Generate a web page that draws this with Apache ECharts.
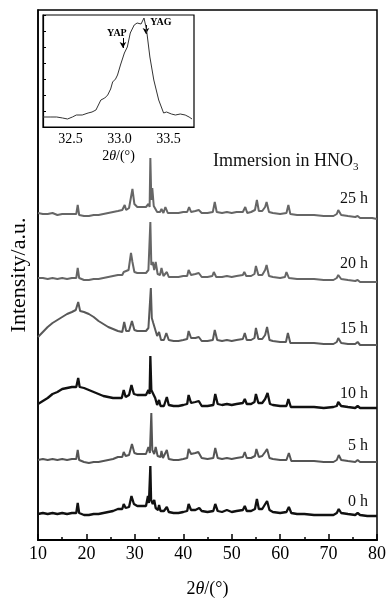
<!DOCTYPE html>
<html>
<head>
<meta charset="utf-8">
<script src="https://cdn.jsdelivr.net/npm/echarts@6/dist/echarts.min.js"></script>
<style>
  html, body { margin: 0; padding: 0; background: #fff; }
  #main { width: 390px; height: 605px; }
</style>
</head>
<body>
<div id="main"></div>
<script>
// 数据：2θ / 强度 (a.u.，各曲线已上下错开)
const h0 = [[10,26],[11,27],[12,26],[13,27],[14,26],[15,27],[16,26],[17,27],[17.9,27],[18.2,37],[18.5,27],[19.5,25],[20.5,25],[21.5,26],[22.5,26],[23.5,27],[24.5,28],[25.5,29],[26.5,31],[27.4,31],[27.7,36],[28.1,32],[28.8,33],[29.3,44],[29.8,36],[30.5,34],[31.5,34],[32.3,34],[32.7,44],[32.9,37],[33.1,36],[33.2,74],[33.35,40],[33.7,36],[34.0,40],[34.3,32],[34.8,30],[35.0,35],[35.3,29],[36.0,29],[36.6,33],[37.0,28],[38,27],[39,27],[40,28],[40.8,29],[41.1,36],[41.6,30],[42.5,30],[43.3,32],[43.8,29],[45,28],[46.2,29],[46.6,36],[47.1,29],[48,28],[49,30],[50,28],[51,29],[52.3,30],[52.7,34],[53.1,29],[54,29],[54.8,31],[55.2,41],[55.6,31],[56.3,31],[56.8,35],[57.3,39],[57.8,30],[58.5,28],[60,27],[61.3,28],[61.8,33],[62.3,27],[63.5,26],[65,26],[67,25],[69,25],[71,25],[71.7,27],[72.1,31],[72.6,27],[74,26],[75.5,25],[76,27],[76.5,25],[78,24],[79,24],[80,24]]
const h5 = [[10,80],[11,81],[12,80],[13,81],[14,80],[15,81],[16,80],[17,81],[17.9,81],[18.2,90],[18.5,80],[19.5,78],[20.5,77],[21.5,78],[22.5,78],[23.5,79],[24.5,80],[25.5,81],[26.5,83],[27.4,83],[27.7,88],[28.1,84],[28.8,85],[29.4,96],[29.9,87],[30.5,86],[31.5,86],[32.3,86],[32.8,93],[33.1,87],[33.4,127],[33.6,90],[34.0,86],[34.3,93],[34.7,84],[35.3,83],[35.5,89],[35.8,82],[36.6,90],[37.0,81],[38,80],[39,80],[40,81],[40.8,82],[41.1,91],[41.6,86],[42.5,87],[43.1,88],[43.8,82],[45,81],[46.2,82],[46.6,92],[47.1,82],[48,81],[49,82],[50,81],[51,82],[52.3,83],[52.7,88],[53.1,82],[54,82],[54.8,84],[55.1,91],[55.6,83],[56.3,84],[56.9,88],[57.3,91],[57.8,82],[58.5,81],[60,80],[61.3,80],[61.8,87],[62.3,79],[63.5,79],[65,79],[67,79],[69,78],[71,78],[71.7,80],[72.1,85],[72.6,80],[74,79],[75.5,78],[76,80],[76.5,78],[78,78],[79,78],[80,78]]
const h10 = [[10,136],[11,139],[12,142],[13,146],[14,148],[15,151],[16,152],[17,153],[17.9,153],[18.3,162],[18.6,153],[19.5,152],[20.5,150],[21.5,148],[22.5,146],[23.5,144],[24.5,143],[25.5,142],[26.5,142],[27.3,142],[27.7,150],[28.1,143],[28.8,145],[29.3,155],[29.8,146],[30.5,145],[31.5,145],[32.3,145],[32.8,150],[33.05,146],[33.2,184],[33.4,150],[33.8,146],[34.2,142],[34.6,135],[35.0,140],[35.3,134],[36.0,134],[36.6,143],[37.0,135],[38,134],[39,134],[40,135],[40.8,136],[41.1,145],[41.6,137],[42.5,138],[43.2,139],[43.8,134],[45,134],[46.2,135],[46.6,146],[47.1,136],[48,135],[49,136],[50,135],[51,136],[52.3,137],[52.7,141],[53.1,136],[54,136],[54.7,138],[55.0,146],[55.5,137],[56.3,137],[56.9,141],[57.4,147],[57.9,136],[58.5,135],[60,134],[61.3,134],[61.7,141],[62.2,133],[63.5,133],[65,133],[67,133],[69,132],[71,133],[71.7,134],[72.0,138],[72.6,134],[74,133],[75.5,132],[76,134],[76.5,132],[78,132],[79,132],[80,132]]
const h15 = [[10,203],[11,208],[12,213],[13,217],[14,220],[15,223],[16,226],[17,228],[17.8,230],[18.3,238],[18.7,229],[19.5,228],[20.5,226],[21.5,223],[22.5,219],[23.5,216],[24.5,213],[25.5,211],[26.5,209],[27.4,208],[27.8,218],[28.2,209],[28.8,209],[29.4,219],[29.9,210],[30.5,209],[31.5,209],[32.3,209],[32.8,212],[33.1,210],[33.3,252],[33.5,222],[33.8,217],[34.2,215],[34.6,204],[35.0,208],[35.4,200],[36.0,200],[36.5,207],[37.0,200],[38,199],[39,199],[40,200],[40.8,201],[41.1,209],[41.6,202],[42.5,202],[43.2,203],[43.8,199],[45,199],[46.1,200],[46.5,210],[47.0,200],[48,199],[49,200],[50,199],[51,200],[52.3,201],[52.7,207],[53.1,200],[54,200],[54.7,202],[55.0,212],[55.5,201],[56.3,201],[56.9,205],[57.3,213],[57.8,200],[58.5,199],[60,198],[61.2,198],[61.6,207],[62.1,197],[63.5,197],[65,197],[67,197],[69,196],[71,196],[71.7,198],[72.0,202],[72.6,197],[74,196],[75.5,196],[76,198],[76.5,195],[78,195],[79,195],[80,195]]
const h20 = [[10,262],[11,262],[12,261],[13,262],[14,261],[15,262],[16,261],[17,262],[17.9,262],[18.2,272],[18.5,262],[19.5,260],[20.5,260],[21.5,261],[22.5,261],[23.5,262],[24.5,263],[25.5,264],[26.5,265],[27.4,265],[27.7,268],[28.1,266],[28.7,270],[29.2,287],[29.5,278],[29.9,268],[30.5,267],[31.5,267],[32.3,267],[32.8,270],[33.05,268],[33.2,318],[33.4,275],[33.7,278],[34.0,270],[34.3,278],[34.7,266],[35.2,265],[35.5,272],[35.9,264],[36.6,268],[37.0,263],[38,263],[39,263],[40,264],[40.8,264],[41.1,270],[41.6,265],[42.5,266],[43.2,267],[43.8,263],[45,263],[46.0,264],[46.3,268],[46.8,263],[48,263],[49,264],[50,263],[51,264],[52.3,265],[52.6,268],[53.0,264],[54,264],[54.7,266],[55.0,274],[55.5,265],[56.3,265],[56.9,270],[57.2,275],[57.7,264],[58.5,263],[60,262],[61.0,263],[61.3,268],[61.8,262],[63.5,261],[65,261],[67,261],[69,260],[71,260],[71.7,262],[72.0,265],[72.6,261],[74,260],[75.5,259],[76,260],[76.5,258],[78,258],[79,258],[80,258]]
const h25 = [[10,327],[11,326],[12,326],[13,327],[14,325],[15,326],[16,326],[17,326],[17.9,326],[18.2,335],[18.5,325],[19.5,324],[20.5,324],[21.5,325],[22.5,325],[23.5,326],[24.5,327],[25.5,328],[26.5,329],[27.4,330],[27.9,335],[28.2,330],[28.8,332],[29.5,351],[29.9,336],[30.5,333],[31.5,333],[32.3,333],[32.8,336],[33.05,333],[33.2,382],[33.4,340],[33.6,352],[33.9,334],[34.2,332],[34.6,328],[35.2,328],[35.5,331],[35.9,327],[36.3,333],[36.8,327],[38,327],[39,327],[40,328],[40.8,328],[41.2,333],[41.6,328],[42.5,329],[43.2,330],[43.8,327],[45,327],[46.1,328],[46.5,338],[46.9,328],[48,327],[49,328],[50,327],[51,328],[52.3,328],[52.8,333],[53.2,327],[54,328],[54.8,330],[55.2,340],[55.6,329],[56.3,329],[56.9,333],[57.2,338],[57.7,328],[58.5,327],[60,326],[61.3,327],[61.7,335],[62.1,326],[63.5,325],[65,325],[67,325],[69,324],[71,324],[71.7,326],[72.0,330],[72.6,325],[74,324],[75.5,323],[76,324],[76.5,322],[78,322],[79,322],[80,321]]
// 插图：33° 附近主峰放大
const inset = [[32.22,10],[32.30,10],[32.36,10],[32.42,9],[32.47,8],[32.52,10],[32.56,12],[32.62,12],[32.68,14],[32.72,15],[32.76,17],[32.81,27],[32.85,29],[32.88,32],[32.91,38],[32.93,45],[32.96,48],[32.98,52],[33.01,62],[33.03,64],[33.05,74],[33.08,80],[33.11,94],[33.13,98],[33.15,102],[33.18,104],[33.2,105],[33.22,103],[33.25,109],[33.27,100],[33.28,94],[33.31,70],[33.35,47],[33.4,27],[33.45,14],[33.48,15],[33.5,16],[33.53,13],[33.57,12],[33.62,13],[33.67,12],[33.71,10],[33.74,8]]
const insetTicks = [32.5, 33.0, 33.5]
const curveNames = ['0 h', '5 h', '10 h', '15 h', '20 h', '25 h']
const curveColors = ['#111', '#555', '#111', '#595959', '#666', '#666']

const font = 'Liberation Serif'
var myChart = echarts.init(document.getElementById('main'))

const curves = [h0, h5, h10, h15, h20, h25]
const series = curves.map(function(d, i) {
  return {
    name: curveNames[i],
    type: 'line',
    xAxisIndex: 0,
    yAxisIndex: 0,
    symbol: 'none',
    silent: true,
    lineStyle: { color: curveColors[i], width: curveColors[i] === '#111' ? 2.3 : 2 },
    data: d
  }
})
series.push({
  name: 'inset',
  type: 'line',
  xAxisIndex: 1,
  yAxisIndex: 1,
  symbol: 'none',
  silent: true,
  z: 10,
  lineStyle: { color: '#333', width: 1 },
  data: inset,
  markLine: {
    symbol: ['none', 'arrow'],
    symbolSize: [5, 6],
    silent: true,
    lineStyle: { color: '#000', width: 1, type: 'solid' },
    label: {
      position: 'start',
      fontFamily: font,
      fontWeight: 'bold',
      fontSize: 10,
      color: '#000'
    },
    data: [
      [{ coord: [33.035, 89], label: { formatter: 'YAP', offset: [-6, 5] } }, { coord: [33.035, 79] }],
      [{ coord: [33.27, 102], label: { formatter: 'YAG', offset: [15, 7] } }, { coord: [33.27, 93] }]
    ]
  }
})

// 曲线右侧标注的位置
const tagY = [503, 447, 395, 330, 265, 200]
const graphics = curveNames.map(function(t, i) {
  return {
    type: 'text',
    right: 22,
    top: tagY[i] - 9,
    style: { text: t, font: '16px ' + font, fill: '#111' }
  }
})
graphics.push({
  type: 'text',
  left: 213,
  top: 152,
  style: {
    text: '{n|Immersion in HNO}{s|3}',
    rich: {
      n: { font: '18px ' + font, fill: '#111' },
      s: { font: '11px ' + font, fill: '#111', padding: [13, 0, 0, 0] }
    }
  }
})

var option = {
  animation: false,
  backgroundColor: '#fff',
  grid: [
    { left: 35, top: 10, right: 13, bottom: 65, show: true, borderColor: '#000', borderWidth: 1.5 },
    { left: 43, top: 15, width: 151, height: 112, show: true, borderColor: '#000', borderWidth: 1.2 }
  ],
  xAxis: [
    {
      gridIndex: 0,
      type: 'value',
      min: 10,
      max: 80,
      interval: 10,
      name: '{t|2}{i|θ}{t|/(°)}',
      nameLocation: 'middle',
      nameGap: 40,
      nameTextStyle: {
        rich: {
          t: { fontFamily: font, fontSize: 18, color: '#000' },
          i: { fontFamily: font, fontSize: 18, fontStyle: 'italic', color: '#000' }
        }
      },
      axisLine: { lineStyle: { color: '#000', width: 2 } },
      axisTick: { inside: true, length: 6, lineStyle: { color: '#000', width: 1.5 } },
      minorTick: { show: true, splitNumber: 2, length: 3, lineStyle: { color: '#000', width: 1.5 } },
      axisLabel: { fontFamily: font, fontSize: 18, color: '#000', margin: 5 },
      splitLine: { show: false }
    },
    {
      gridIndex: 1,
      type: 'value',
      min: 32.22,
      max: 33.76,
      name: '{t|2}{i|θ}{t|/(°)}',
      nameLocation: 'middle',
      nameGap: 22,
      nameTextStyle: {
        rich: {
          t: { fontFamily: font, fontSize: 14, color: '#000' },
          i: { fontFamily: font, fontSize: 14, fontStyle: 'italic', color: '#000' }
        }
      },
      axisLine: { lineStyle: { color: '#000', width: 1.2 } },
      axisTick: { show: false },
      axisLabel: {
        fontFamily: font,
        fontSize: 14,
        color: '#000',
        margin: 5,
        customValues: insetTicks,
        formatter: function(v) { return v.toFixed(1) }
      },
      splitLine: { show: false }
    }
  ],
  yAxis: [
    {
      gridIndex: 0,
      type: 'value',
      min: 0,
      max: 530,
      name: 'Intensity/a.u.',
      nameLocation: 'middle',
      nameGap: 8,
      nameTextStyle: { fontFamily: font, fontSize: 22, color: '#000' },
      axisLine: { show: true, lineStyle: { color: '#000', width: 1.5 } },
      axisTick: { show: false },
      axisLabel: { show: false },
      splitLine: { show: false }
    },
    {
      gridIndex: 1,
      type: 'value',
      min: 0,
      max: 112,
      interval: 16,
      axisLine: { show: true, lineStyle: { color: '#000', width: 1.2 } },
      axisTick: { inside: true, length: 3, lineStyle: { color: '#000', width: 1 } },
      axisLabel: { show: false },
      splitLine: { show: false }
    }
  ],
  graphic: graphics,
  series: series
}
myChart.setOption(option)
</script>
</body>
</html>
